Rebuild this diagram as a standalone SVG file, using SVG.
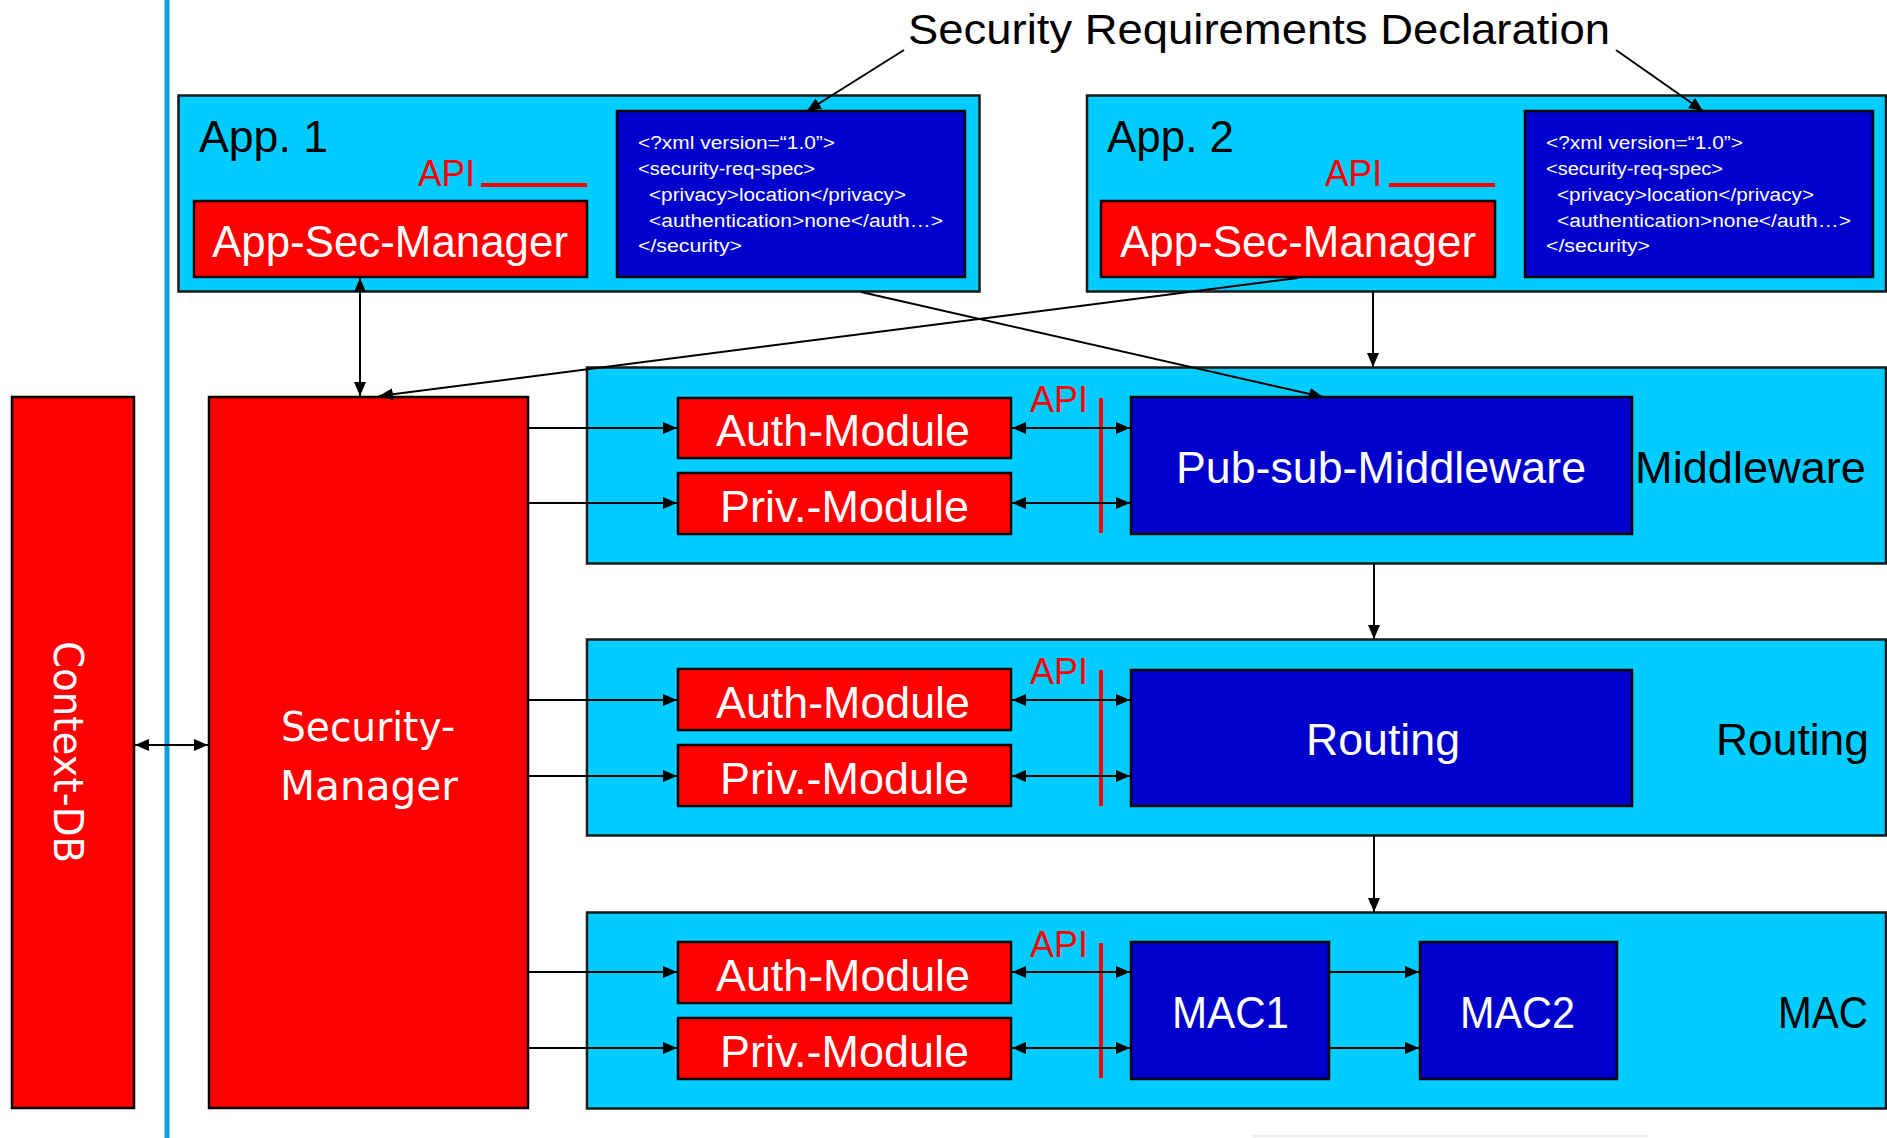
<svg xmlns="http://www.w3.org/2000/svg" width="1887" height="1138" viewBox="0 0 1887 1138">
  <defs>
    <marker id="ah" viewBox="0 0 14 12" refX="14" refY="6" markerWidth="14" markerHeight="12" markerUnits="userSpaceOnUse" orient="auto-start-reverse">
      <path d="M0,0 L14,6 L0,12 z" fill="#000"/>
    </marker>
    <style>
      .layer { fill: #00ccff; stroke: #1a1a1a; stroke-width: 2.5; }
      .red { fill: #ff0000; stroke: #000; stroke-width: 2.5; }
      .blue { fill: #0000cc; stroke: #000; stroke-width: 2.5; }
      .t { font-family: "Liberation Sans", Arial, sans-serif; }
      .wide { font-family: "DejaVu Sans", Verdana, sans-serif; fill: #fff; font-size: 41px; }
      .w { fill: #fff; }
      .k { fill: #000; }
      .api { fill: #ff0000; font-size: 36px; }
      .xml { fill: #fff; font-size: 18px; }
      .c { stroke: #000; stroke-width: 2; fill: none; }
      .a { marker-end: url(#ah); }
      .b { marker-start: url(#ah); marker-end: url(#ah); }
    </style>
  </defs>
  <rect width="1887" height="1138" fill="#fff"/>

  <!-- divider between the context store and the stack -->
  <rect x="164.5" y="0" width="5" height="1138" fill="#0ba0dc"/>
  <rect x="1252" y="1135" width="395" height="2" fill="#ececec"/>

  <text class="t k" x="908" y="44" font-size="43" textLength="702" lengthAdjust="spacingAndGlyphs">Security Requirements Declaration</text>

  <!-- application 1 -->
  <g id="app1">
    <rect class="layer" x="178.5" y="95.5" width="801" height="196"/>
    <text class="t k" x="199" y="152" font-size="44" textLength="129" lengthAdjust="spacingAndGlyphs">App. 1</text>
    <text class="t api" x="418" y="186" textLength="57" lengthAdjust="spacingAndGlyphs">API</text>
    <rect x="481" y="183" width="106" height="4" fill="#ff0000"/>
  </g>
  <g id="app1-sec-manager">
    <rect class="red" x="194" y="201" width="393" height="76"/>
    <text class="t w" x="212" y="257" font-size="45" textLength="356" lengthAdjust="spacingAndGlyphs">App-Sec-Manager</text>
  </g>
  <g id="app1-xml">
    <rect class="blue" x="617" y="111" width="348" height="166"/>
    <text class="t xml" x="638" y="149" textLength="197" lengthAdjust="spacingAndGlyphs">&lt;?xml version=“1.0”&gt;</text>
    <text class="t xml" x="638" y="175" textLength="177" lengthAdjust="spacingAndGlyphs">&lt;security-req-spec&gt;</text>
    <text class="t xml" x="649" y="201" textLength="257" lengthAdjust="spacingAndGlyphs">&lt;privacy&gt;location&lt;/privacy&gt;</text>
    <text class="t xml" x="649" y="227" textLength="294" lengthAdjust="spacingAndGlyphs">&lt;authentication&gt;none&lt;/auth…&gt;</text>
    <text class="t xml" x="638" y="252" textLength="104" lengthAdjust="spacingAndGlyphs">&lt;/security&gt;</text>
  </g>

  <!-- application 2 -->
  <g id="app2">
    <rect class="layer" x="1087" y="95.5" width="799" height="196"/>
    <text class="t k" x="1107" y="152" font-size="44" textLength="127" lengthAdjust="spacingAndGlyphs">App. 2</text>
    <text class="t api" x="1325" y="186" textLength="57" lengthAdjust="spacingAndGlyphs">API</text>
    <rect x="1389" y="183" width="106" height="4" fill="#ff0000"/>
  </g>
  <g id="app2-sec-manager">
    <rect class="red" x="1101" y="201" width="394" height="76"/>
    <text class="t w" x="1120" y="257" font-size="45" textLength="356" lengthAdjust="spacingAndGlyphs">App-Sec-Manager</text>
  </g>
  <g id="app2-xml">
    <rect class="blue" x="1525" y="111" width="348" height="166"/>
    <text class="t xml" x="1546" y="149" textLength="197" lengthAdjust="spacingAndGlyphs">&lt;?xml version=“1.0”&gt;</text>
    <text class="t xml" x="1546" y="175" textLength="177" lengthAdjust="spacingAndGlyphs">&lt;security-req-spec&gt;</text>
    <text class="t xml" x="1557" y="201" textLength="257" lengthAdjust="spacingAndGlyphs">&lt;privacy&gt;location&lt;/privacy&gt;</text>
    <text class="t xml" x="1557" y="227" textLength="294" lengthAdjust="spacingAndGlyphs">&lt;authentication&gt;none&lt;/auth…&gt;</text>
    <text class="t xml" x="1546" y="252" textLength="104" lengthAdjust="spacingAndGlyphs">&lt;/security&gt;</text>
  </g>

  <!-- left column -->
  <g id="context-db">
    <rect class="red" x="12" y="397" width="122" height="711"/>
    <text class="wide" transform="translate(71,752) rotate(90)" x="0" y="17" text-anchor="middle" textLength="222" lengthAdjust="spacingAndGlyphs">Context-DB</text>
  </g>
  <g id="security-manager">
    <rect class="red" x="209" y="397" width="319" height="711"/>
    <text class="wide" x="281" y="741" textLength="174" lengthAdjust="spacingAndGlyphs">Security-</text>
    <text class="wide" x="280" y="800" textLength="178" lengthAdjust="spacingAndGlyphs">Manager</text>
  </g>

  <!-- middleware layer -->
  <g id="middleware">
    <rect class="layer" x="587" y="367.5" width="1299" height="196"/>
    <text class="t k" x="1635" y="483" font-size="44" textLength="231" lengthAdjust="spacingAndGlyphs">Middleware</text>
    <text class="t api" x="1030" y="412" textLength="58" lengthAdjust="spacingAndGlyphs">API</text>
    <rect x="1099" y="398" width="4" height="135" fill="#ff0000"/>
  </g>
  <g id="auth-1">
    <rect class="red" x="678" y="398" width="333" height="60"/>
    <text class="t w" x="716" y="446" font-size="45" textLength="254" lengthAdjust="spacingAndGlyphs">Auth-Module</text>
  </g>
  <g id="priv-1">
    <rect class="red" x="678" y="473" width="333" height="61"/>
    <text class="t w" x="720" y="522" font-size="45" textLength="249" lengthAdjust="spacingAndGlyphs">Priv.-Module</text>
  </g>
  <g id="pubsub">
    <rect class="blue" x="1131" y="397" width="501" height="137"/>
    <text class="t w" x="1176" y="483" font-size="44" textLength="410" lengthAdjust="spacingAndGlyphs">Pub-sub-Middleware</text>
  </g>

  <!-- routing layer -->
  <g id="routing-layer">
    <rect class="layer" x="587" y="639.5" width="1299" height="196"/>
    <text class="t k" x="1716" y="755" font-size="44" textLength="153" lengthAdjust="spacingAndGlyphs">Routing</text>
    <text class="t api" x="1030" y="684" textLength="58" lengthAdjust="spacingAndGlyphs">API</text>
    <rect x="1099" y="670" width="4" height="136" fill="#ff0000"/>
  </g>
  <g id="auth-2">
    <rect class="red" x="678" y="669" width="333" height="61"/>
    <text class="t w" x="716" y="718" font-size="45" textLength="254" lengthAdjust="spacingAndGlyphs">Auth-Module</text>
  </g>
  <g id="priv-2">
    <rect class="red" x="678" y="745" width="333" height="61"/>
    <text class="t w" x="720" y="794" font-size="45" textLength="249" lengthAdjust="spacingAndGlyphs">Priv.-Module</text>
  </g>
  <g id="routing">
    <rect class="blue" x="1131" y="670" width="501" height="136"/>
    <text class="t w" x="1306" y="755" font-size="44" textLength="154" lengthAdjust="spacingAndGlyphs">Routing</text>
  </g>

  <!-- MAC layer -->
  <g id="mac-layer">
    <rect class="layer" x="587" y="912.5" width="1299" height="196"/>
    <text class="t k" x="1778" y="1028" font-size="44" textLength="90" lengthAdjust="spacingAndGlyphs">MAC</text>
    <text class="t api" x="1030" y="957" textLength="58" lengthAdjust="spacingAndGlyphs">API</text>
    <rect x="1099" y="943" width="4" height="135" fill="#ff0000"/>
  </g>
  <g id="auth-3">
    <rect class="red" x="678" y="942" width="333" height="61"/>
    <text class="t w" x="716" y="991" font-size="45" textLength="254" lengthAdjust="spacingAndGlyphs">Auth-Module</text>
  </g>
  <g id="priv-3">
    <rect class="red" x="678" y="1018" width="333" height="61"/>
    <text class="t w" x="720" y="1067" font-size="45" textLength="249" lengthAdjust="spacingAndGlyphs">Priv.-Module</text>
  </g>
  <g id="mac1">
    <rect class="blue" x="1131" y="942" width="198" height="137"/>
    <text class="t w" x="1172" y="1028" font-size="44" textLength="117" lengthAdjust="spacingAndGlyphs">MAC1</text>
  </g>
  <g id="mac2">
    <rect class="blue" x="1420" y="942" width="197" height="137"/>
    <text class="t w" x="1460" y="1028" font-size="44" textLength="115" lengthAdjust="spacingAndGlyphs">MAC2</text>
  </g>

  <!-- connectors -->
  <g id="connectors">
    <line class="c a" x1="904" y1="50" x2="807" y2="111"/>
    <line class="c a" x1="1616" y1="50" x2="1703" y2="111"/>
    <line class="c b" x1="360" y1="278" x2="360" y2="396"/>
    <line class="c a" x1="1298" y1="278" x2="379" y2="396"/>
    <line class="c a" x1="861" y1="292" x2="1323" y2="397"/>
    <line class="c a" x1="1373" y1="292" x2="1373" y2="367"/>
    <line class="c a" x1="1374" y1="564" x2="1374" y2="639"/>
    <line class="c a" x1="1374" y1="836" x2="1374" y2="912"/>
    <line class="c b" x1="135" y1="745" x2="208" y2="745"/>

    <line class="c a" x1="529" y1="428" x2="677" y2="428"/>
    <line class="c a" x1="529" y1="503" x2="677" y2="503"/>
    <line class="c a" x1="529" y1="700" x2="677" y2="700"/>
    <line class="c a" x1="529" y1="776" x2="677" y2="776"/>
    <line class="c a" x1="529" y1="972" x2="677" y2="972"/>
    <line class="c a" x1="529" y1="1048" x2="677" y2="1048"/>

    <line class="c b" x1="1012" y1="428" x2="1130" y2="428"/>
    <line class="c b" x1="1012" y1="503" x2="1130" y2="503"/>
    <line class="c b" x1="1012" y1="700" x2="1130" y2="700"/>
    <line class="c b" x1="1012" y1="776" x2="1130" y2="776"/>
    <line class="c b" x1="1012" y1="972" x2="1130" y2="972"/>
    <line class="c b" x1="1012" y1="1048" x2="1130" y2="1048"/>

    <line class="c a" x1="1330" y1="972" x2="1419" y2="972"/>
    <line class="c a" x1="1330" y1="1048" x2="1419" y2="1048"/>
  </g>
</svg>
